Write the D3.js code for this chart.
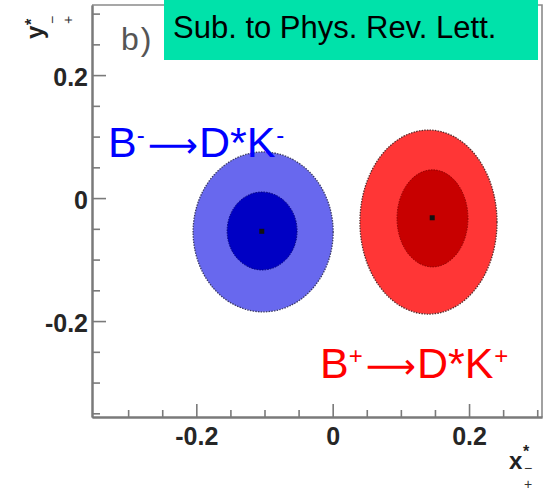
<!DOCTYPE html>
<html>
<head>
<meta charset="utf-8">
<script src="https://cdn.jsdelivr.net/npm/d3@7"></script>
<style>
  html, body { margin: 0; padding: 0; background: #fff; }
  svg { display: block; }
  text { font-family: "Liberation Sans", Arial, Helvetica, sans-serif; }
</style>
</head>
<body>
<svg id="chart" width="551" height="493"></svg>
<script>
// Axis ranges and ticks
const xDomain = [-0.353, 0.307];
const yDomain = [-0.356, 0.314];
const xMajorTicks = [-0.2, 0, 0.2];
const yMajorTicks = [-0.2, 0, 0.2];
const xMinorTicks = [-0.3, -0.25, -0.15, -0.1, -0.05, 0.05, 0.1, 0.15, 0.25, 0.3];
const yMinorTicks = [-0.35, -0.3, -0.25, -0.15, -0.1, -0.05, 0.05, 0.1, 0.15, 0.25, 0.3];
const xTickLabels = ["-0.2", "0", "0.2"];
const yTickLabels = ["-0.2", "0", "0.2"];

// Fit results: B- and B+ samples
const samples = ["B-", "B+"];
const centralX = [-0.104, 0.146];
const centralY = [-0.054, -0.032];
// 1-sigma (inner) region: centre and half-widths
const innerX = [-0.1035, 0.1464];
const innerY = [-0.0535, -0.033];
const innerHalfX = [0.0513, 0.052];
const innerHalfY = [0.0634, 0.0789];
// 2-sigma (outer) region: centre and half-widths
const outerX = [-0.102, 0.1405];
const outerY = [-0.055, -0.039];
const outerHalfX = [0.1027, 0.1005];
const outerHalfY = [0.130, 0.1496];

const outerFill = ["#6868ee", "#ff3636"];
const innerFill = ["#0000c4", "#c80000"];
const outerEdge = ["#3a3a66", "#5a2a2a"];
const innerEdge = ["#00007a", "#8a0000"];

const svg = d3.select("#chart");
const plotLeft = 92, plotRight = 542, plotTop = 5, plotBottom = 417;

const x = d3.scaleLinear().domain(xDomain).range([plotLeft, plotRight]);
const y = d3.scaleLinear().domain(yDomain).range([plotBottom, plotTop]);

// Confidence regions
const regions = svg.append("g");
samples.forEach((s, i) => {
  regions.append("ellipse")
    .attr("cx", x(outerX[i])).attr("cy", y(outerY[i]))
    .attr("rx", x(outerX[i] + outerHalfX[i]) - x(outerX[i]))
    .attr("ry", y(outerY[i]) - y(outerY[i] + outerHalfY[i]))
    .attr("fill", outerFill[i])
    .attr("stroke", outerEdge[i]).attr("stroke-width", 1.3)
    .attr("stroke-dasharray", "1.5 1.2");
  regions.append("ellipse")
    .attr("cx", x(innerX[i])).attr("cy", y(innerY[i]))
    .attr("rx", x(innerX[i] + innerHalfX[i]) - x(innerX[i]))
    .attr("ry", y(innerY[i]) - y(innerY[i] + innerHalfY[i]))
    .attr("fill", innerFill[i])
    .attr("stroke", innerEdge[i]).attr("stroke-width", 1)
    .attr("stroke-dasharray", "1.5 1.2");
  regions.append("rect")
    .attr("x", x(centralX[i]) - 2.5).attr("y", y(centralY[i]) - 2.5)
    .attr("width", 5).attr("height", 5)
    .attr("fill", "#111");
});

// Frame
const axisColor = "#7a7a7a";
svg.append("path")
  .attr("d", `M${plotLeft},${plotTop}H${plotRight}V${plotBottom}`)
  .attr("fill", "none").attr("stroke", "#8a8a8a").attr("stroke-width", 1.6);

function styleAxis(g) {
  g.select(".domain").attr("stroke", axisColor).attr("stroke-width", 2);
  g.selectAll(".tick line").attr("stroke", axisColor).attr("stroke-width", 1.6);
  g.selectAll("text")
    .attr("fill", "#262626")
    .attr("font-size", 25)
    .attr("font-weight", "bold");
}

// X axis: ticks point into the plot
const xAxisMinor = svg.append("g").attr("transform", `translate(0,${plotBottom})`)
  .call(d3.axisBottom(x).tickValues(xMinorTicks).tickSizeInner(-7).tickSizeOuter(0).tickFormat(""));
styleAxis(xAxisMinor);
const xAxis = svg.append("g").attr("transform", `translate(0,${plotBottom})`)
  .call(d3.axisBottom(x).tickValues(xMajorTicks).tickSizeInner(-13).tickSizeOuter(0)
    .tickPadding(28).tickFormat((d, i) => xTickLabels[i]));
styleAxis(xAxis);
xAxis.selectAll("text").attr("dy", "0");

// Y axis
const yAxisMinor = svg.append("g").attr("transform", `translate(${plotLeft},0)`)
  .call(d3.axisLeft(y).tickValues(yMinorTicks).tickSizeInner(-8).tickSizeOuter(0).tickFormat(""));
styleAxis(yAxisMinor);
const yAxis = svg.append("g").attr("transform", `translate(${plotLeft},0)`)
  .call(d3.axisLeft(y).tickValues(yMajorTicks).tickSizeInner(-14).tickSizeOuter(0)
    .tickPadding(4).tickFormat((d, i) => yTickLabels[i]));
styleAxis(yAxis);
yAxis.selectAll("text").attr("dy", "0.4em");

// Axis titles: x* / y* with a stacked minus-over-plus subscript
function axisTitle(g, letter, starY, minusY, plusY) {
  const t = g.append("text").attr("x", 0).attr("y", 0).attr("fill", "#222");
  t.append("tspan").attr("font-size", 24).attr("font-weight", "bold").text(letter);
  t.append("tspan").attr("x", 14).attr("y", starY)
    .attr("font-size", 16).attr("font-weight", "bold").text("*");
  t.append("tspan").attr("x", 15).attr("y", minusY)
    .attr("font-size", 14).attr("fill", "#333").text("\u2212");
  t.append("tspan").attr("x", 15).attr("y", plusY)
    .attr("font-size", 14).attr("fill", "#333").text("+");
}
axisTitle(svg.append("g").attr("transform", "translate(509,469)"), "x", -12.5, 4, 20);
axisTitle(svg.append("g").attr("transform", "translate(43,39) rotate(-90)"), "y", -6, 14, 30);

// Panel tag
svg.append("text").attr("x", 121).attr("y", 50)
  .attr("font-size", 32).attr("letter-spacing", 2).attr("fill", "#555").text("b)");

// Submission banner
svg.append("rect").attr("x", 164).attr("y", 0).attr("width", 374).attr("height", 60)
  .attr("fill", "#00e2aa");
svg.append("text").attr("x", 173).attr("y", 38)
  .attr("font-size", 31).attr("fill", "#000").text("Sub. to Phys. Rev. Lett.");

// Decay channel labels
function channelLabel(xp, yp, color, sign) {
  const t = svg.append("text").attr("x", xp).attr("y", yp)
    .attr("font-size", 43).attr("fill", color);
  t.append("tspan").text("B");
  t.append("tspan").attr("font-size", 24).attr("dy", -14).text(sign);
  t.append("tspan").attr("dy", 14).attr("dx", 3)
    .attr("font-family", "DejaVu Sans").attr("font-size", 35).text("\u27F6");
  t.append("tspan").attr("dx", 1).text("D*K");
  t.append("tspan").attr("font-size", 24).attr("dy", -14).attr("dx", 1).text(sign);
}
channelLabel(108, 157, "#0000ff", "-");
channelLabel(320, 378, "#ff0000", "+");
</script>
</body>
</html>
